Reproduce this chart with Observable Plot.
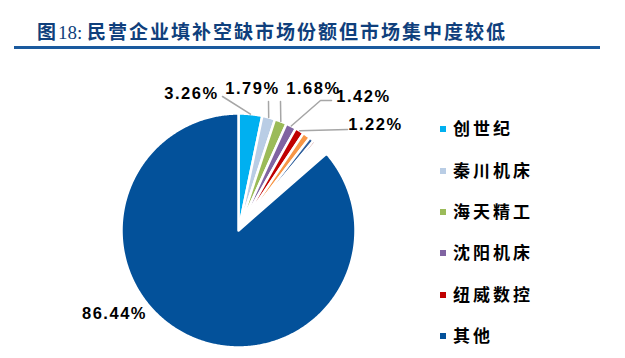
<!DOCTYPE html>
<html><head><meta charset="utf-8">
<script src="https://cdn.jsdelivr.net/npm/d3@7"></script>
<script src="https://cdn.jsdelivr.net/npm/@observablehq/plot@0.6"></script>
<style>
body{margin:0;background:#fff;}
#wrap{position:relative;width:625px;height:358px;overflow:hidden;background:#fff;}
#title{position:absolute;left:37px;top:19px;font-family:"Noto Sans CJK SC",sans-serif;font-size:19px;font-weight:bold;color:#0f3f7c;letter-spacing:2px;white-space:nowrap;line-height:24px;}
#title .num{font-family:"Liberation Serif",serif;font-weight:normal;letter-spacing:0;}
#rule{position:absolute;left:14px;top:46px;width:586px;height:3px;background:#1a5a9e;}
#chart{position:absolute;left:0;top:55px;}
#legend{position:absolute;left:440px;top:0;}
.item{position:absolute;left:0;white-space:nowrap;font-family:"Noto Sans CJK SC",sans-serif;font-weight:bold;font-size:17px;letter-spacing:3px;color:#000;}
.sw{position:absolute;left:0;width:6px;height:6px;}
.lt{position:absolute;left:13px;line-height:20px;}
</style></head>
<body>
<div id="wrap">
  <div id="title">图<span class="num">18: </span>民营企业填补空缺市场份额但市场集中度较低</div>
  <div id="rule"></div>
  <div id="chart"></div>
  <div id="legend"></div>
</div>
<script>
// ---- data ----
const names = ["创世纪","秦川机床","海天精工","沈阳机床","纽威数控"];
const shares = [3.26, 1.79, 1.68, 1.42, 1.22];
const otherName = "其他";
const otherShare = 86.44;
// thin unlabeled slivers seen between 纽威数控 and 其他
const sliverNames = ["s1","s2","s3","s4"];
const sliverShares = [1.05, 0.65, 0.40, 2.09];
const labelTexts = ["3.26%","1.79%","1.68%","1.42%","1.22%","86.44%"];

// ---- styles ----
const colors = ["#00b0f0","#b9cde5","#9bbb59","#8064a2","#c00000"];
const otherColor = "#03519a";
const sliverColors = ["#f79646","#2f5f9c","#a23c3c","#ffffff"];
const legendColors = [...colors, otherColor];
const legendNames = [...names, otherName];

// ---- layout (pixels) ----
const W = 625, H = 303, CX = 238, CY = 175, R = 117;
// label centers, offsets from pie centre (px, y down)
const labelOffsets = [[-47,-137],[14,-142],[75,-142],[125,-134],[137,-106],[-124,83]];
// leader elbows (px offsets) per labelled slice (before reaching slice edge)
const leaderElbows = [[[-16,-134]],[[30,-129]],[[42,-129]],[[93,-130],[82,-130]],[[109,-101]]];

const slices = [
  ...names.map((n,i)=>({name:n, value:shares[i], color:colors[i]})),
  ...sliverNames.map((n,i)=>({name:n, value:sliverShares[i], color:sliverColors[i]})),
  {name:otherName, value:otherShare, color:otherColor}
];
const arcs = d3.pie().sort(null).value(d=>d.value)(slices);

const pts = [];
arcs.forEach(a=>{
  pts.push({key:a.data.name, x:0, y:0});
  const n = Math.max(2, Math.ceil((a.endAngle-a.startAngle)/(Math.PI/360)));
  for(let k=0;k<=n;k++){
    const t = a.startAngle + (a.endAngle-a.startAngle)*k/n;
    pts.push({key:a.data.name, x:Math.sin(t), y:Math.cos(t)});
  }
});

const labelData = labelTexts.map((t,i)=>({text:t, x:labelOffsets[i][0]/R, y:-labelOffsets[i][1]/R}));

const leaders = [];
leaderElbows.forEach((els,i)=>{
  const a = arcs[i];
  const mid = (a.startAngle+a.endAngle)/2;
  els.forEach(p=>leaders.push({k:i, x:p[0]/R, y:-p[1]/R}));
  leaders.push({k:i, x:Math.sin(mid), y:Math.cos(mid)});
});

const chart = Plot.plot({
  width: W, height: H, margin: 0,
  style: {background:"transparent", overflow:"visible", letterSpacing:"1.5px"},
  x: {domain:[-CX/R, (W-CX)/R], axis:null},
  y: {domain:[-(H-CY)/R, CY/R], axis:null},
  color: {domain: slices.map(d=>d.name), range: slices.map(d=>d.color)},
  marks: [
    Plot.line(pts, {x:"x", y:"y", z:"key", fill:"key", stroke:"white", strokeWidth:2.5, curve:"linear-closed"}),
    Plot.line(leaders, {x:"x", y:"y", z:"k", stroke:"#a6a6a6", strokeWidth:1.5}),
    Plot.text(labelData, {x:"x", y:"y", text:"text", fontSize:16.5, fontWeight:"bold", fontFamily:"Liberation Sans, Arial, sans-serif", fill:"#000"})
  ]
});
document.getElementById("chart").appendChild(chart);

// legend
const rowTops = [129,170.5,212,253,294.5,336];
const lg = document.getElementById("legend");
legendNames.forEach((n,i)=>{
  const it = document.createElement("div");
  it.className="item";
  it.style.top = (rowTops[i]) + "px";
  it.innerHTML = `<div class="sw" style="top:-3px;background:${legendColors[i]}"></div><div class="lt" style="top:-11px">${n}</div>`;
  lg.appendChild(it);
});
</script>
</body></html>
